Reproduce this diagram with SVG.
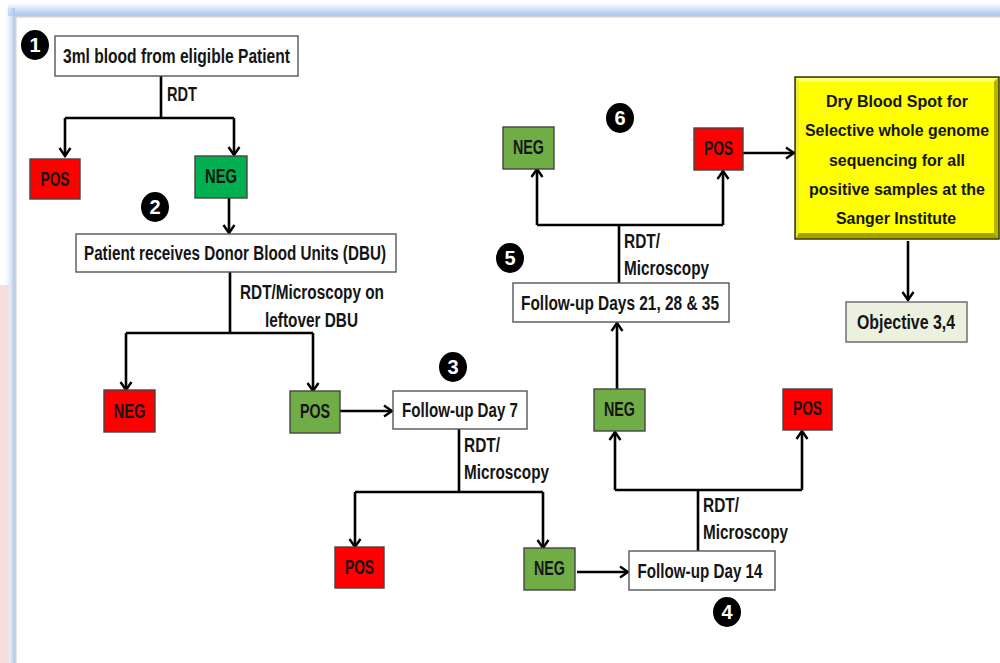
<svg xmlns="http://www.w3.org/2000/svg" width="1000" height="663" viewBox="0 0 1000 663">
<defs>
<linearGradient id="gTop" x1="0" y1="0" x2="0" y2="1"><stop offset="0" stop-color="#ffffff"/><stop offset="1" stop-color="#a6c3ec"/></linearGradient>
<linearGradient id="gLeft" x1="0" y1="0" x2="1" y2="0"><stop offset="0" stop-color="#ffffff" stop-opacity="0"/><stop offset="1" stop-color="#a6c3ec"/></linearGradient>
<marker id="arr" markerUnits="userSpaceOnUse" markerWidth="14" markerHeight="14" viewBox="0 0 14 14" refX="12" refY="7" orient="auto">
<path d="M4,1.5 L12,7 L4,12.5" fill="none" stroke="#000" stroke-width="2.4"/>
</marker>
</defs>
<style>
.t{font-family:"Liberation Sans",Arial,sans-serif;font-size:19.5px;font-weight:bold;fill:#151515;text-anchor:middle}
.ty{font-family:"Liberation Sans",Arial,sans-serif;font-size:16.5px;font-weight:bold;fill:#151515;text-anchor:middle}
.lb{font-family:"Liberation Sans",Arial,sans-serif;font-size:19.5px;font-weight:bold;fill:#151515}
.wb{fill:#fff;stroke:#555;stroke-width:1.4}
.red{fill:#ff0000;stroke:#444;stroke-width:1.4}
.grn{fill:#70ad47;stroke:#444;stroke-width:1.4}
.grn2{fill:#00b050;stroke:#444;stroke-width:1.4}
.num{font-family:"Liberation Sans",Arial,sans-serif;font-size:20px;font-weight:bold;fill:#fff;text-anchor:middle}
.c{fill:none;stroke:#000;stroke-width:2.6}
.ca{fill:none;stroke:#000;stroke-width:2.6;marker-end:url(#arr)}
</style>
<rect x="0" y="0" width="1000" height="663" fill="#fff"/>
<rect x="8" y="3" width="992" height="13" fill="url(#gTop)"/>
<rect x="3" y="8" width="12" height="655" fill="url(#gLeft)"/>
<rect x="0" y="285" width="9" height="378" fill="#f6dddd"/>
<line x1="15" y1="16.5" x2="1000" y2="16.5" stroke="#d0d0d0" stroke-width="2"/>
<line x1="15.5" y1="16" x2="15.5" y2="663" stroke="#d0d0d0" stroke-width="2"/>

<g id="connectors">
<path class="c" d="M161,76 V118 M65,118 H234"/>
<path class="ca" d="M65,118 V156"/>
<path class="ca" d="M234,118 V155"/>
<path class="ca" d="M229,198 V233"/>
<path class="c" d="M230,272 V333 M126,333 H313"/>
<path class="ca" d="M126,333 V390"/>
<path class="ca" d="M313,333 V391"/>
<path class="ca" d="M340,411 H392"/>
<path class="c" d="M459,429 V492 M355,492 H543"/>
<path class="ca" d="M355,492 V547"/>
<path class="ca" d="M543,492 V548"/>
<path class="ca" d="M577,572 H628"/>
<path class="c" d="M698,551 V490 M615,490 H802"/>
<path class="ca" d="M615,490 V432"/>
<path class="ca" d="M802,490 V431"/>
<path class="ca" d="M617,389 V323"/>
<path class="c" d="M619,283 V225 M537,225 H723"/>
<path class="ca" d="M537,225 V169"/>
<path class="ca" d="M723,225 V171"/>
<path class="ca" d="M743,153 H794"/>
<path class="ca" d="M908,241 V300"/>
<text class="lb" x="167" y="101" textLength="30" lengthAdjust="spacingAndGlyphs">RDT</text>
<text class="lb" x="240" y="299" textLength="144" lengthAdjust="spacingAndGlyphs">RDT/Microscopy on</text>
<text class="lb" x="265" y="327" textLength="93" lengthAdjust="spacingAndGlyphs">leftover DBU</text>
<text class="lb" x="464" y="452" textLength="36" lengthAdjust="spacingAndGlyphs">RDT/</text>
<text class="lb" x="464" y="479" textLength="85" lengthAdjust="spacingAndGlyphs">Microscopy</text>
<text class="lb" x="703" y="512" textLength="36" lengthAdjust="spacingAndGlyphs">RDT/</text>
<text class="lb" x="703" y="539" textLength="85" lengthAdjust="spacingAndGlyphs">Microscopy</text>
<text class="lb" x="624" y="248" textLength="36" lengthAdjust="spacingAndGlyphs">RDT/</text>
<text class="lb" x="624" y="275" textLength="85" lengthAdjust="spacingAndGlyphs">Microscopy</text>
</g>

<g id="step1"><ellipse cx="35" cy="45" rx="14" ry="15" fill="#000"/><text class="num" x="35" y="52">1</text></g>
<g id="step2"><ellipse cx="155" cy="207" rx="14" ry="15" fill="#000"/><text class="num" x="155" y="214">2</text></g>
<g id="step3"><ellipse cx="453" cy="367" rx="14" ry="15" fill="#000"/><text class="num" x="453" y="374">3</text></g>
<g id="step4"><ellipse cx="727" cy="612" rx="14" ry="15" fill="#000"/><text class="num" x="727" y="619">4</text></g>
<g id="step5"><ellipse cx="510" cy="258" rx="14" ry="15" fill="#000"/><text class="num" x="510" y="265">5</text></g>
<g id="step6"><ellipse cx="620" cy="118" rx="14" ry="15" fill="#000"/><text class="num" x="620" y="125">6</text></g>

<g id="n-patient"><rect class="wb" x="55" y="36" width="243" height="40"/><text class="t" x="176.5" y="63" textLength="227" lengthAdjust="spacingAndGlyphs">3ml blood from eligible Patient</text></g>
<g id="n-pos1"><rect class="red" x="30" y="159" width="50" height="40"/><text class="t" x="55" y="186" textLength="29" lengthAdjust="spacingAndGlyphs">POS</text></g>
<g id="n-neg1"><rect class="grn2" x="195" y="156" width="52" height="42"/><text class="t" x="221" y="183" textLength="32" lengthAdjust="spacingAndGlyphs">NEG</text></g>
<g id="n-dbu"><rect class="wb" x="76" y="234" width="320" height="38"/><text class="t" x="235" y="260" textLength="302" lengthAdjust="spacingAndGlyphs">Patient receives Donor Blood Units (DBU)</text></g>
<g id="n-neg2"><rect class="red" x="104" y="390" width="51" height="42"/><text class="t" x="129.5" y="418" textLength="32" lengthAdjust="spacingAndGlyphs">NEG</text></g>
<g id="n-pos2"><rect class="grn" x="290" y="391" width="50" height="42"/><text class="t" x="315" y="418" textLength="30" lengthAdjust="spacingAndGlyphs">POS</text></g>
<g id="n-day7"><rect class="wb" x="393" y="391" width="134" height="38"/><text class="t" x="460" y="417" textLength="116" lengthAdjust="spacingAndGlyphs">Follow-up Day 7</text></g>
<g id="n-pos3"><rect class="red" x="335" y="547" width="49" height="41"/><text class="t" x="359.5" y="574" textLength="29" lengthAdjust="spacingAndGlyphs">POS</text></g>
<g id="n-neg3"><rect class="grn" x="524" y="548" width="51" height="42"/><text class="t" x="549.5" y="575" textLength="31" lengthAdjust="spacingAndGlyphs">NEG</text></g>
<g id="n-day14"><rect class="wb" x="629" y="551" width="146" height="39"/><text class="t" x="700" y="578" textLength="125" lengthAdjust="spacingAndGlyphs">Follow-up Day 14</text></g>
<g id="n-neg4"><rect class="grn" x="594" y="389" width="51" height="42"/><text class="t" x="619.5" y="416" textLength="31" lengthAdjust="spacingAndGlyphs">NEG</text></g>
<g id="n-pos4"><rect class="red" x="783" y="389" width="49" height="41"/><text class="t" x="807.5" y="415" textLength="29" lengthAdjust="spacingAndGlyphs">POS</text></g>
<g id="n-day21"><rect class="wb" x="513" y="283" width="216" height="39"/><text class="t" x="620" y="310" textLength="198" lengthAdjust="spacingAndGlyphs">Follow-up Days 21, 28 &amp; 35</text></g>
<g id="n-neg5"><rect class="grn" x="503" y="127" width="51" height="42"/><text class="t" x="528.5" y="154" textLength="31" lengthAdjust="spacingAndGlyphs">NEG</text></g>
<g id="n-pos5"><rect class="red" x="694" y="128" width="49" height="42"/><text class="t" x="718.5" y="155" textLength="29" lengthAdjust="spacingAndGlyphs">POS</text></g>
<g id="n-dbs">
<rect x="795" y="77" width="204" height="162" fill="#cccc00" stroke="#2a2a00" stroke-width="1.4"/>
<polygon points="796,78 998,78 994,82 799,82" fill="#ffff66"/>
<polygon points="796,238 998,238 994,233 799,233" fill="#a3a300"/>
<polygon points="796,78 799,82 799,233 796,238" fill="#eeee22"/>
<polygon points="998,78 994,82 994,233 998,238" fill="#b5b500"/>
<rect x="799" y="82" width="195" height="151" fill="#ffff00"/>
<text class="ty" x="897" y="107" textLength="142" lengthAdjust="spacingAndGlyphs">Dry Blood Spot for</text>
<text class="ty" x="897" y="136" textLength="184" lengthAdjust="spacingAndGlyphs">Selective whole genome</text>
<text class="ty" x="897" y="166" textLength="136" lengthAdjust="spacingAndGlyphs">sequencing for all</text>
<text class="ty" x="897" y="195" textLength="176" lengthAdjust="spacingAndGlyphs">positive samples at the</text>
<text class="ty" x="896" y="224" textLength="120" lengthAdjust="spacingAndGlyphs">Sanger Institute</text>
</g>
<g id="n-obj"><rect x="846" y="302" width="121" height="40" fill="#ebf1de" stroke="#666" stroke-width="1.4"/><text class="t" x="906" y="329" textLength="98" lengthAdjust="spacingAndGlyphs">Objective 3,4</text></g>
</svg>
